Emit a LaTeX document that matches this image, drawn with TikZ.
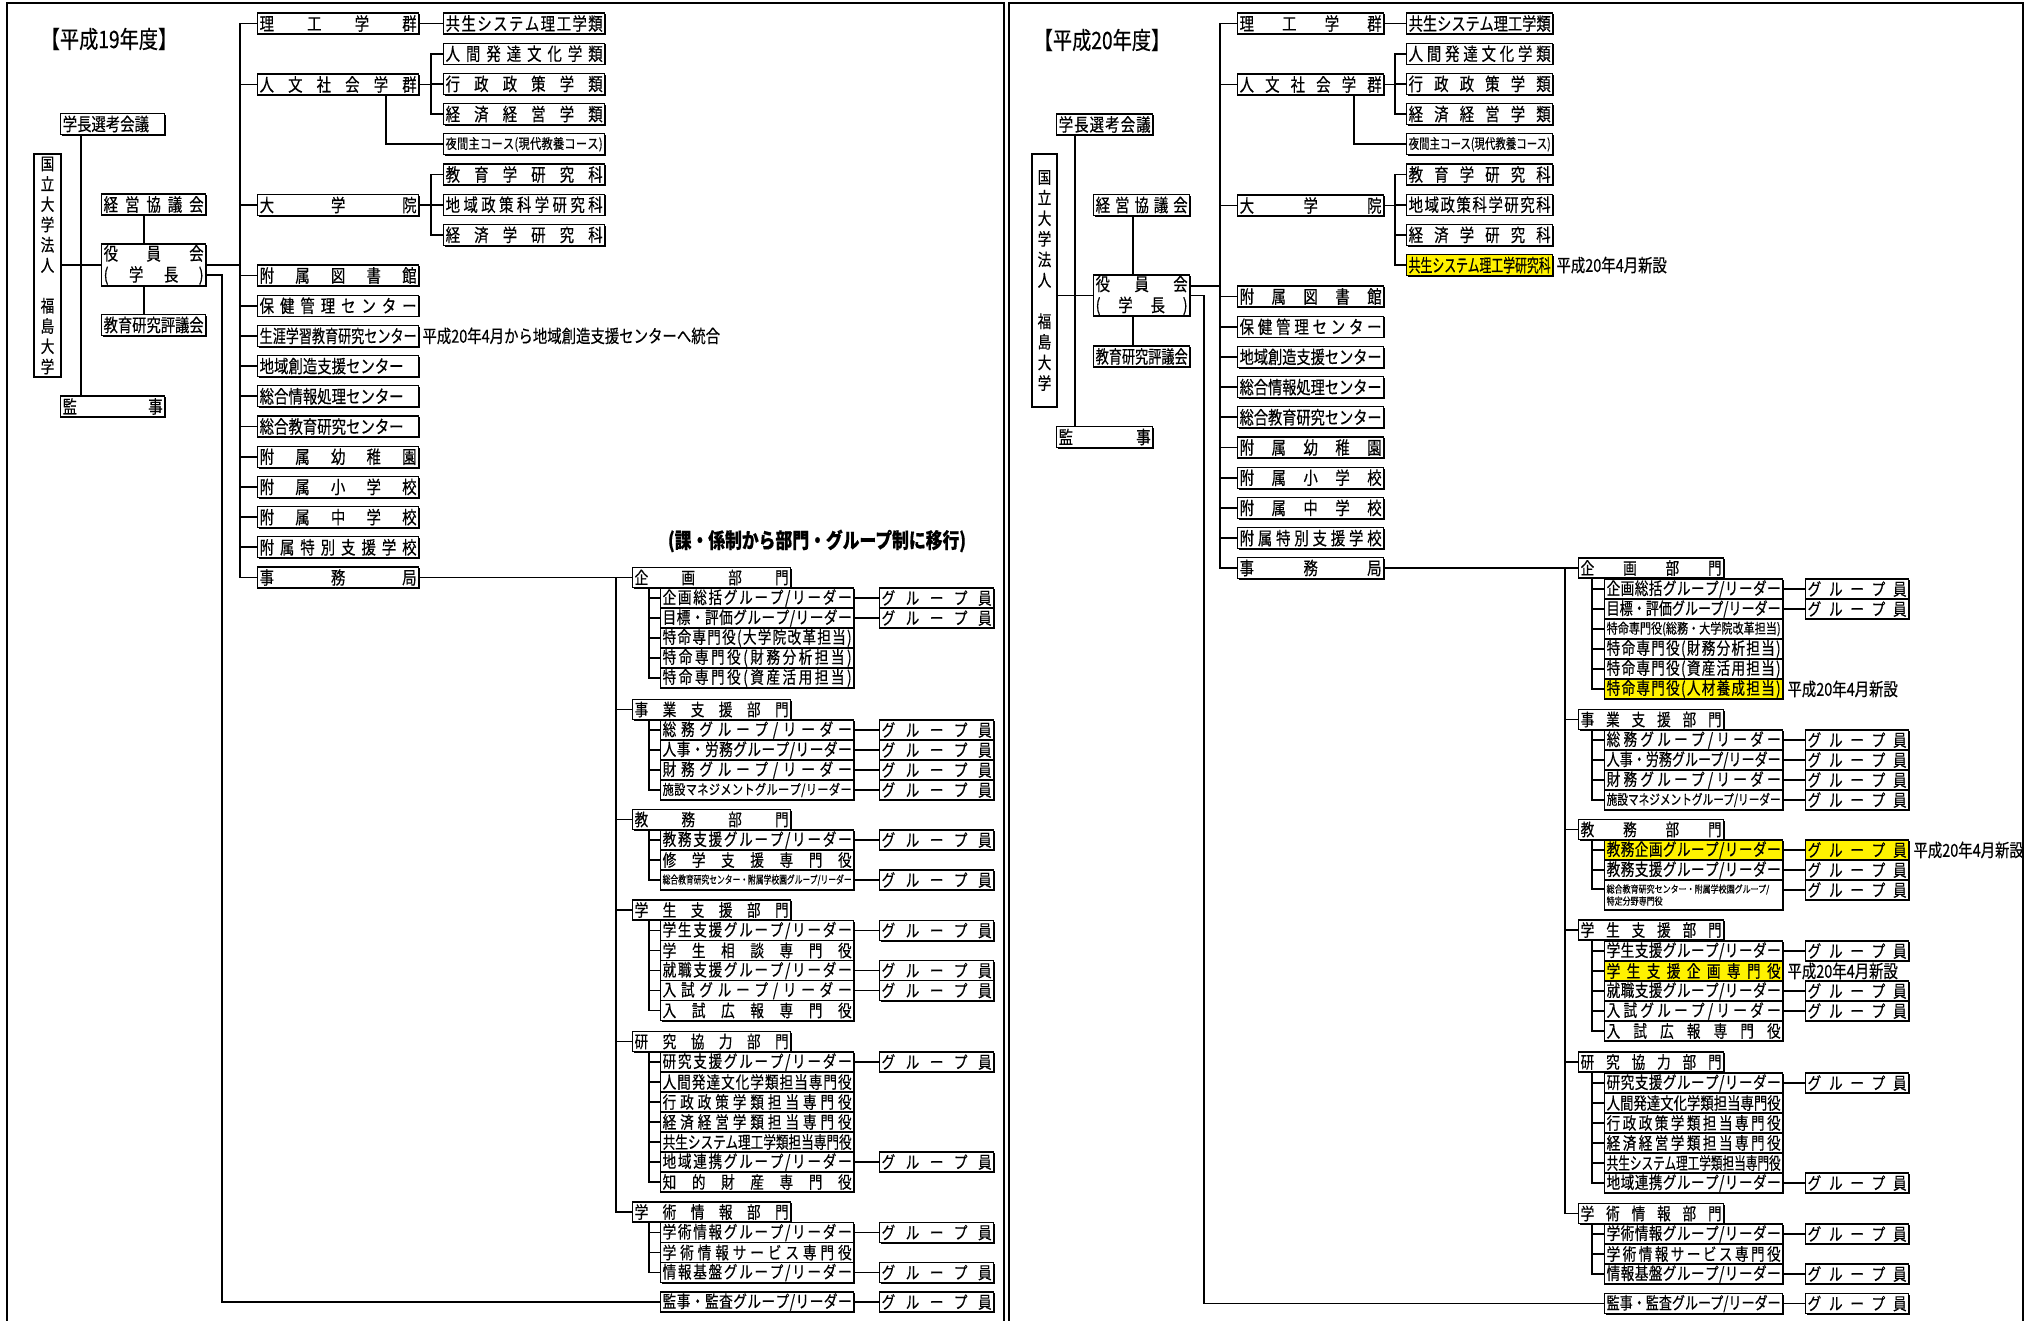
\documentclass[tikz,border=0pt]{standalone}
\usepackage{fontspec}
\usepackage{graphicx}
\usetikzlibrary{positioning, shadows}
\newfontfamily\jp[FakeStretch=0.8, FakeBold=0.4]{Noto Sans CJK JP}

% spread the characters over the box width, squeeze them if too wide
\newsavebox\sprbox
\def\sprloop#1{\ifx#1\relax\else#1\hfill\expandafter\sprloop\fi}
\newcommand\sprfill[1]{\hbox to\hsize{\sprloop#1\relax\hskip0pt plus -1fill\relax}}
\newcommand\sprA[1]{\sbox\sprbox{#1}%
  \ifdim\wd\sprbox>\hsize\resizebox{\hsize}{\height}{#1}\else\sprfill{#1}\fi}
\newcommand\spr[1]{\expandafter\sprA\expandafter{#1}}
\newcommand\gin{\spr{グループ員}}

\begin{document}
\begin{tikzpicture}[x=1pt, y=-1pt,
  ln/.style={line width=1.8pt},
  panel/.style={line width=2pt},
  bx/.style={draw, line width=1.3pt, fill=white, anchor=west, inner xsep=2pt, inner ysep=0pt,
    drop shadow={shadow xshift=1.3pt, shadow yshift=-1.3pt, opacity=1, fill=black}},
  topL/.style={bx, text width=100pt, minimum height=21pt, font=\jp\fontsize{18}{21}\selectfont},
  topR/.style={bx, text width=92pt, minimum height=21pt, font=\jp\fontsize{18}{21}\selectfont},
  lvL/.style={bx, text width=157pt, minimum height=21pt, font=\jp\fontsize{18}{18}\selectfont},
  lvR/.style={bx, text width=142pt, minimum height=21pt, font=\jp\fontsize{18}{18}\selectfont},
  divL/.style={bx, text width=154pt, minimum height=20pt, font=\jp\fontsize{17}{17}\selectfont},
  divR/.style={bx, text width=141pt, minimum height=20pt, font=\jp\fontsize{17}{17}\selectfont},
  itemL/.style={bx, text width=189pt, minimum height=20pt, font=\jp\fontsize{17}{17}\selectfont},
  itemR/.style={bx, text width=174pt, minimum height=20pt, font=\jp\fontsize{17}{17}\selectfont},
  memL/.style={bx, text width=110pt, minimum height=20pt, font=\jp\fontsize{17}{17}\selectfont},
  memR/.style={bx, text width=99pt, minimum height=20pt, font=\jp\fontsize{17}{17}\selectfont},
  smallfont/.style={font=\jp\fontsize{14}{14}\selectfont},
  tinyfont/.style={font=\jp\fontsize{11}{12}\selectfont},
  note/.style={anchor=west, inner sep=0pt, font=\jp\fontsize{18}{18}\selectfont},
  hl/.style={fill=yellow},
]
\path[use as bounding box] (0,0) rectangle (2031,1321);
\clip (0,0) rectangle (2031,1321);
\fill[white] (0,0) rectangle (2031,1321);
\draw[panel] (7,3) rectangle (1004,1340);
\draw[panel] (1009,3) rectangle (2023,1340);

%% ---------------- H19 ----------------
\node[font=\jp\fontsize{24}{24}\selectfont, inner sep=0pt] (titleL) at (109,39) {【平成19年度】};
\node[bx, anchor=center, text width=23pt, minimum height=223pt, align=center,
      font=\jp\fontsize{17}{20.3}\selectfont] (houjinL) at (47.5,265.5)
      {国\\立\\大\\学\\法\\人\\[20.3pt]福\\島\\大\\学};
\node[topL] (gakuchoL) at (60,124) {学長選考会議};
\node[topL] (keieiL) at (101,204.5) {\spr{経営協議会}};
\node[topL, minimum height=42pt] (yakuinL) at (101,265) {\spr{役員会}\\\spr{(学長)}};
\node[topL] (kyouikuL) at (101,325) {\spr{教育研究評議会}};
\node[topL] (kanjiL) at (60,406.5) {\spr{監事}};
\coordinate (gakuchoLs) at ([xshift=21pt]gakuchoL.south west);
\draw[ln] (gakuchoLs) -- (gakuchoLs |- kanjiL.north);
\draw[ln] (yakuinL.west -| houjinL.east) -- (yakuinL.west);
\draw[ln] ([xshift=-10pt]keieiL.south) -- ([xshift=-10pt]yakuinL.north);
\draw[ln] ([xshift=-10pt]yakuinL.south) -- ([xshift=-10pt]kyouikuL.north);

\coordinate (LT) at (240,0);
\coordinate (LK) at (222,0);
\coordinate (LF) at (431,0);
\coordinate (LB) at (616,0);

\node[lvL] (rikouL) at (257,23.5) {\spr{理工学群}};
\node[lvL] (jinbunL) at (257,84.5) {\spr{人文社会学群}};
\node[lvL] (inL) at (257,205) {\spr{大学院}};
\node[lvL] (toshoL) at (257,275.5) {\spr{附属図書館}};
\node[lvL] (hokenL) at (257,305.7) {\spr{保健管理センター}};
\node[lvL] (shougaiL) at (257,335.9) {\spr{生涯学習教育研究センター}};
\node[lvL] (souzouL) at (257,366.1) {地域創造支援センター};
\node[lvL] (jouhouL) at (257,396.3) {総合情報処理センター};
\node[lvL] (kyoukenL) at (257,426.5) {総合教育研究センター};
\node[lvL] (youchiL) at (257,456.7) {\spr{附属幼稚園}};
\node[lvL] (shouL) at (257,486.9) {\spr{附属小学校}};
\node[lvL] (chuuL) at (257,517.1) {\spr{附属中学校}};
\node[lvL] (tokuL) at (257,547.3) {\spr{附属特別支援学校}};
\node[lvL] (jimuL) at (257,577.5) {\spr{事務局}};
\node[note, right=3pt of shougaiL] (mergeL) {平成20年4月から地域創造支援センターへ統合};

\draw[ln] (yakuinL.east) -- (yakuinL.east -| LT);
\draw[ln] (rikouL.west) -| (LT |- jimuL.west) -- (jimuL.west);
\foreach \n in {jinbunL,inL,toshoL,hokenL,shougaiL,souzouL,jouhouL,kyoukenL,youchiL,shouL,chuuL,tokuL}
  \draw[ln] (LT |- \n.west) -- (\n.west);

\node[lvL] (kyouseiL) at (443,23.5) {\spr{共生システム理工学類}};
\node[lvL] (ningenL) at (443,53.7) {\spr{人間発達文化学類}};
\node[lvL] (gyouseiL) at (443,83.9) {\spr{行政政策学類}};
\node[lvL] (keizaiL) at (443,114.1) {\spr{経済経営学類}};
\node[lvL, smallfont] (yakanL) at (443,144.3) {\spr{夜間主コース(現代教養コース)}};
\node[lvL] (kyouikuKL) at (443,174.5) {\spr{教育学研究科}};
\node[lvL] (chiikiKL) at (443,204.7) {\spr{地域政策科学研究科}};
\node[lvL] (keizaiKL) at (443,234.9) {\spr{経済学研究科}};

\draw[ln] (rikouL.east) -- (kyouseiL.west);
\draw[ln] (jinbunL.east) -- (jinbunL.east -| LF);
\draw[ln] (ningenL.west) -| (LF |- keizaiL.west) -- (keizaiL.west);
\draw[ln] (LF |- gyouseiL.west) -- (gyouseiL.west);
\draw[ln] ([xshift=48pt]jinbunL.south) |- (yakanL.west);
\draw[ln] (inL.east) -- (inL.east -| LF);
\draw[ln] (kyouikuKL.west) -| (LF |- keizaiKL.west) -- (keizaiKL.west);
\draw[ln] (LF |- chiikiKL.west) -- (chiikiKL.west);

\node[font=\jp\bfseries\fontsize{21}{21}\selectfont, inner sep=0pt] (shiftL) at (817,541) {(課・係制から部門・グループ制に移行)};

\node[divL] (kikakuL) at (632,577.5) {\spr{企画部門}};
\node[divL] (jigyouL) at (632,709.5) {\spr{事業支援部門}};
\node[divL] (kyoumuL) at (632,819.5) {\spr{教務部門}};
\node[divL] (gakuseiL) at (632,910) {\spr{学生支援部門}};
\node[divL] (kenkyuL) at (632,1041.5) {\spr{研究協力部門}};
\node[divL] (gakujutsuL) at (632,1212) {\spr{学術情報部門}};
\draw[ln] (jimuL.east) -- (kikakuL.west);
\draw[ln] (LB |- kikakuL.west) |- (gakujutsuL.west);
\foreach \n in {jigyouL,kyoumuL,gakuseiL,kenkyuL}
  \draw[ln] (LB |- \n.west) -- (\n.west);

% 企画部門
\foreach \t [count=\i] in {企画総括グループ/リーダー,目標・評価グループ/リーダー,特命専門役(大学院改革担当),特命専門役(財務分析担当),特命専門役(資産活用担当)}
  \node[itemL] (kikakuL\i) at (660,578+20*\i) {\spr{\t}};
\coordinate (kikakuLs) at ([xshift=17pt]kikakuL.south west);
\draw[ln] (kikakuLs) |- (kikakuL5.west);
\foreach \i in {1,...,4} \draw[ln] (kikakuLs |- kikakuL\i.west) -- (kikakuL\i.west);
\foreach \i in {1,2} {
  \node[memL] (kikakuLm\i) at (879,578+20*\i) {\gin};
  \draw[ln] (kikakuL\i) -- (kikakuLm\i);
}

% 事業支援部門
\foreach \t [count=\i] in {総務グループ/リーダー,人事・労務グループ/リーダー,財務グループ/リーダー}
  \node[itemL] (jigyouL\i) at (660,710+20*\i) {\spr{\t}};
\node[itemL, smallfont] (jigyouL4) at (660,790) {\spr{施設マネジメントグループ/リーダー}};
\coordinate (jigyouLs) at ([xshift=17pt]jigyouL.south west);
\draw[ln] (jigyouLs) |- (jigyouL4.west);
\foreach \i in {1,...,3} \draw[ln] (jigyouLs |- jigyouL\i.west) -- (jigyouL\i.west);
\foreach \i in {1,...,4} {
  \node[memL] (jigyouLm\i) at (879,710+20*\i) {\gin};
  \draw[ln] (jigyouL\i) -- (jigyouLm\i);
}

% 教務部門
\node[itemL] (kyoumuL1) at (660,840) {\spr{教務支援グループ/リーダー}};
\node[itemL] (kyoumuL2) at (660,860) {\spr{修学支援専門役}};
\node[itemL, tinyfont] (kyoumuL3) at (660,880) {\spr{総合教育研究センター・附属学校園グループ/リーダー}};
\coordinate (kyoumuLs) at ([xshift=17pt]kyoumuL.south west);
\draw[ln] (kyoumuLs) |- (kyoumuL3.west);
\foreach \i in {1,2} \draw[ln] (kyoumuLs |- kyoumuL\i.west) -- (kyoumuL\i.west);
\foreach \i in {1,3} {
  \node[memL] (kyoumuLm\i) at (879,820+20*\i) {\gin};
  \draw[ln] (kyoumuL\i) -- (kyoumuLm\i);
}

% 学生支援部門
\foreach \t [count=\i] in {学生支援グループ/リーダー,学生相談専門役,就職支援グループ/リーダー,入試グループ/リーダー,入試広報専門役}
  \node[itemL] (gakuseiL\i) at (660,910.5+20*\i) {\spr{\t}};
\coordinate (gakuseiLs) at ([xshift=17pt]gakuseiL.south west);
\draw[ln] (gakuseiLs) |- (gakuseiL5.west);
\foreach \i in {1,...,4} \draw[ln] (gakuseiLs |- gakuseiL\i.west) -- (gakuseiL\i.west);
\foreach \i in {1,3,4} {
  \node[memL] (gakuseiLm\i) at (879,910.5+20*\i) {\gin};
  \draw[ln] (gakuseiL\i) -- (gakuseiLm\i);
}

% 研究協力部門
\foreach \t [count=\i] in {研究支援グループ/リーダー,人間発達文化学類担当専門役,行政政策学類担当専門役,経済経営学類担当専門役,共生システム理工学類担当専門役,地域連携グループ/リーダー,知的財産専門役}
  \node[itemL] (kenkyuL\i) at (660,1042+20*\i) {\spr{\t}};
\coordinate (kenkyuLs) at ([xshift=17pt]kenkyuL.south west);
\draw[ln] (kenkyuLs) |- (kenkyuL7.west);
\foreach \i in {1,...,6} \draw[ln] (kenkyuLs |- kenkyuL\i.west) -- (kenkyuL\i.west);
\foreach \i in {1,6} {
  \node[memL] (kenkyuLm\i) at (879,1042+20*\i) {\gin};
  \draw[ln] (kenkyuL\i) -- (kenkyuLm\i);
}

% 学術情報部門
\foreach \t [count=\i] in {学術情報グループ/リーダー,学術情報サービス専門役,情報基盤グループ/リーダー}
  \node[itemL] (gakujutsuL\i) at (660,1212.5+20*\i) {\spr{\t}};
\coordinate (gakujutsuLs) at ([xshift=17pt]gakujutsuL.south west);
\draw[ln] (gakujutsuLs) |- (gakujutsuL3.west);
\foreach \i in {1,2} \draw[ln] (gakujutsuLs |- gakujutsuL\i.west) -- (gakujutsuL\i.west);
\foreach \i in {1,3} {
  \node[memL] (gakujutsuLm\i) at (879,1212.5+20*\i) {\gin};
  \draw[ln] (gakujutsuL\i) -- (gakujutsuLm\i);
}

\node[itemL] (kansaL) at (660,1302) {\spr{監事・監査グループ/リーダー}};
\node[memL] (kansaLm) at (879,1302) {\gin};
\draw[ln] (kansaL) -- (kansaLm);
\draw[ln] ([yshift=-10pt]yakuinL.east) -| (LK |- kansaL.west) -- (kansaL.west);

%% ---------------- H20 ----------------
\node[font=\jp\fontsize{24}{24}\selectfont, inner sep=0pt] (titleR) at (1102,40) {【平成20年度】};
\node[bx, anchor=center, text width=21pt, minimum height=253pt, align=center,
      font=\jp\fontsize{17}{20.6}\selectfont] (houjinR) at (1044.5,280.5)
      {国\\立\\大\\学\\法\\人\\[20.6pt]福\\島\\大\\学};
\node[topR] (gakuchoR) at (1056,124.5) {\spr{学長選考会議}};
\node[topR] (keieiR) at (1093,205) {\spr{経営協議会}};
\node[topR, minimum height=41pt] (yakuinR) at (1093,295.5) {\spr{役員会}\\\spr{(学長)}};
\node[topR] (kyouikuR) at (1093,356.5) {\spr{教育研究評議会}};
\node[topR] (kanjiR) at (1056,437) {\spr{監事}};
\coordinate (gakuchoRs) at ([xshift=19pt]gakuchoR.south west);
\draw[ln] (gakuchoRs) -- (gakuchoRs |- kanjiR.north);
\draw[ln] (yakuinR.west -| houjinR.east) -- (yakuinR.west);
\draw[ln] ([xshift=-9pt]keieiR.south) -- ([xshift=-9pt]yakuinR.north);
\draw[ln] ([xshift=-9pt]yakuinR.south) -- ([xshift=-9pt]kyouikuR.north);

\coordinate (RT) at (1220,0);
\coordinate (RK) at (1204,0);
\coordinate (RF) at (1395,0);
\coordinate (RB) at (1565,0);

\node[lvR] (rikouR) at (1237,23.5) {\spr{理工学群}};
\node[lvR] (jinbunR) at (1237,84.5) {\spr{人文社会学群}};
\node[lvR] (inR) at (1237,205.5) {\spr{大学院}};
\node[lvR] (toshoR) at (1237,296.5) {\spr{附属図書館}};
\node[lvR] (hokenR) at (1237,326.7) {\spr{保健管理センター}};
\node[lvR] (souzouR) at (1237,356.9) {\spr{地域創造支援センター}};
\node[lvR] (jouhouR) at (1237,387.1) {\spr{総合情報処理センター}};
\node[lvR] (kyoukenR) at (1237,417.3) {\spr{総合教育研究センター}};
\node[lvR] (youchiR) at (1237,447.5) {\spr{附属幼稚園}};
\node[lvR] (shouR) at (1237,477.7) {\spr{附属小学校}};
\node[lvR] (chuuR) at (1237,507.9) {\spr{附属中学校}};
\node[lvR] (tokuR) at (1237,538.1) {\spr{附属特別支援学校}};
\node[lvR] (jimuR) at (1237,568) {\spr{事務局}};

\draw[ln] ([yshift=9.5pt]yakuinR.east) -- ([yshift=9.5pt]yakuinR.east -| RT);
\draw[ln] (rikouR.west) -| (RT |- jimuR.west) -- (jimuR.west);
\foreach \n in {jinbunR,inR,toshoR,hokenR,souzouR,jouhouR,kyoukenR,youchiR,shouR,chuuR,tokuR}
  \draw[ln] (RT |- \n.west) -- (\n.west);

\node[lvR] (kyouseiR) at (1406,23.5) {\spr{共生システム理工学類}};
\node[lvR] (ningenR) at (1406,53.7) {\spr{人間発達文化学類}};
\node[lvR] (gyouseiR) at (1406,83.9) {\spr{行政政策学類}};
\node[lvR] (keizaiR) at (1406,114.1) {\spr{経済経営学類}};
\node[lvR, smallfont] (yakanR) at (1406,144.3) {\spr{夜間主コース(現代教養コース)}};
\node[lvR] (kyouikuKR) at (1406,174.5) {\spr{教育学研究科}};
\node[lvR] (chiikiKR) at (1406,204.7) {\spr{地域政策科学研究科}};
\node[lvR] (keizaiKR) at (1406,234.9) {\spr{経済学研究科}};
\node[lvR, hl] (kyouseiKR) at (1406,265.1) {\spr{共生システム理工学研究科}};
\node[note, right=3pt of kyouseiKR] (newR1) {平成20年4月新設};

\draw[ln] (rikouR.east) -- (kyouseiR.west);
\draw[ln] (jinbunR.east) -- (jinbunR.east -| RF);
\draw[ln] (ningenR.west) -| (RF |- keizaiR.west) -- (keizaiR.west);
\draw[ln] (RF |- gyouseiR.west) -- (gyouseiR.west);
\draw[ln] ([xshift=43pt]jinbunR.south) |- (yakanR.west);
\draw[ln] (inR.east) -- (inR.east -| RF);
\draw[ln] (kyouikuKR.west) -| (RF |- kyouseiKR.west) -- (kyouseiKR.west);
\foreach \n in {chiikiKR,keizaiKR} \draw[ln] (RF |- \n.west) -- (\n.west);

\node[divR] (kikakuR) at (1578,568) {\spr{企画部門}};
\node[divR] (jigyouR) at (1578,719.5) {\spr{事業支援部門}};
\node[divR] (kyoumuR) at (1578,829.5) {\spr{教務部門}};
\node[divR] (gakuseiR) at (1578,930) {\spr{学生支援部門}};
\node[divR] (kenkyuR) at (1578,1062) {\spr{研究協力部門}};
\node[divR] (gakujutsuR) at (1578,1213.5) {\spr{学術情報部門}};
\draw[ln] (jimuR.east) -- (kikakuR.west);
\draw[ln] (RB |- kikakuR.west) |- (gakujutsuR.west);
\foreach \n in {jigyouR,kyoumuR,gakuseiR,kenkyuR}
  \draw[ln] (RB |- \n.west) -- (\n.west);

% 企画部門
\node[itemR] (kikakuR1) at (1604,589) {\spr{企画総括グループ/リーダー}};
\node[itemR] (kikakuR2) at (1604,609) {\spr{目標・評価グループ/リーダー}};
\node[itemR, smallfont] (kikakuR3) at (1604,629) {\spr{特命専門役(総務・大学院改革担当)}};
\node[itemR] (kikakuR4) at (1604,649) {\spr{特命専門役(財務分析担当)}};
\node[itemR] (kikakuR5) at (1604,669) {\spr{特命専門役(資産活用担当)}};
\node[itemR, hl] (kikakuR6) at (1604,689) {\spr{特命専門役(人材養成担当)}};
\node[note, right=4pt of kikakuR6] (newR2) {平成20年4月新設};
\coordinate (kikakuRs) at ([xshift=14pt]kikakuR.south west);
\draw[ln] (kikakuRs) |- (kikakuR6.west);
\foreach \i in {1,...,5} \draw[ln] (kikakuRs |- kikakuR\i.west) -- (kikakuR\i.west);
\foreach \i in {1,2} {
  \node[memR] (kikakuRm\i) at (1805,569+20*\i) {\gin};
  \draw[ln] (kikakuR\i) -- (kikakuRm\i);
}

% 事業支援部門
\foreach \t [count=\i] in {総務グループ/リーダー,人事・労務グループ/リーダー,財務グループ/リーダー}
  \node[itemR] (jigyouR\i) at (1604,720+20*\i) {\spr{\t}};
\node[itemR, smallfont] (jigyouR4) at (1604,800) {\spr{施設マネジメントグループ/リーダー}};
\coordinate (jigyouRs) at ([xshift=14pt]jigyouR.south west);
\draw[ln] (jigyouRs) |- (jigyouR4.west);
\foreach \i in {1,...,3} \draw[ln] (jigyouRs |- jigyouR\i.west) -- (jigyouR\i.west);
\foreach \i in {1,...,4} {
  \node[memR] (jigyouRm\i) at (1805,720+20*\i) {\gin};
  \draw[ln] (jigyouR\i) -- (jigyouRm\i);
}

% 教務部門
\node[itemR, hl] (kyoumuR1) at (1604,850) {\spr{教務企画グループ/リーダー}};
\node[itemR] (kyoumuR2) at (1604,870) {\spr{教務支援グループ/リーダー}};
\node[itemR, minimum height=30pt, align=left, font=\jp\fontsize{10}{12}\selectfont] (kyoumuR3)
  at (1604,895) {総合教育研究センター・附属学校園グループ/\\特定分野専門役};
\node[memR, hl] (kyoumuRm1) at (1805,850) {\gin};
\node[memR] (kyoumuRm2) at (1805,870) {\gin};
\node[memR] (kyoumuRm3) at (1805,890) {\gin};
\node[note, right=4pt of kyoumuRm1] (newR3) {平成20年4月新設};
\coordinate (kyoumuRs) at ([xshift=14pt]kyoumuR.south west);
\draw[ln] (kyoumuRs) |- ([yshift=-10pt]kyoumuR3.north west);
\foreach \i in {1,2} {
  \draw[ln] (kyoumuRs |- kyoumuR\i.west) -- (kyoumuR\i.west);
  \draw[ln] (kyoumuR\i) -- (kyoumuRm\i);
}
\draw[ln] (kyoumuRm3.west -| kyoumuR3.east) -- (kyoumuRm3.west);

% 学生支援部門
\node[itemR] (gakuseiR1) at (1604,951) {\spr{学生支援グループ/リーダー}};
\node[itemR, hl] (gakuseiR2) at (1604,971) {\spr{学生支援企画専門役}};
\node[itemR] (gakuseiR3) at (1604,991) {\spr{就職支援グループ/リーダー}};
\node[itemR] (gakuseiR4) at (1604,1011) {\spr{入試グループ/リーダー}};
\node[itemR] (gakuseiR5) at (1604,1031) {\spr{入試広報専門役}};
\node[note, right=4pt of gakuseiR2] (newR4) {平成20年4月新設};
\coordinate (gakuseiRs) at ([xshift=14pt]gakuseiR.south west);
\draw[ln] (gakuseiRs) |- (gakuseiR5.west);
\foreach \i in {1,...,4} \draw[ln] (gakuseiRs |- gakuseiR\i.west) -- (gakuseiR\i.west);
\foreach \i in {1,3,4} {
  \node[memR] (gakuseiRm\i) at (1805,931+20*\i) {\gin};
  \draw[ln] (gakuseiR\i) -- (gakuseiRm\i);
}

% 研究協力部門
\foreach \t [count=\i] in {研究支援グループ/リーダー,人間発達文化学類担当専門役,行政政策学類担当専門役,経済経営学類担当専門役,共生システム理工学類担当専門役,地域連携グループ/リーダー}
  \node[itemR] (kenkyuR\i) at (1604,1063+20*\i) {\spr{\t}};
\coordinate (kenkyuRs) at ([xshift=14pt]kenkyuR.south west);
\draw[ln] (kenkyuRs) |- (kenkyuR6.west);
\foreach \i in {1,...,5} \draw[ln] (kenkyuRs |- kenkyuR\i.west) -- (kenkyuR\i.west);
\foreach \i in {1,6} {
  \node[memR] (kenkyuRm\i) at (1805,1063+20*\i) {\gin};
  \draw[ln] (kenkyuR\i) -- (kenkyuRm\i);
}

% 学術情報部門
\foreach \t [count=\i] in {学術情報グループ/リーダー,学術情報サービス専門役,情報基盤グループ/リーダー}
  \node[itemR] (gakujutsuR\i) at (1604,1214+20*\i) {\spr{\t}};
\coordinate (gakujutsuRs) at ([xshift=14pt]gakujutsuR.south west);
\draw[ln] (gakujutsuRs) |- (gakujutsuR3.west);
\foreach \i in {1,2} \draw[ln] (gakujutsuRs |- gakujutsuR\i.west) -- (gakujutsuR\i.west);
\foreach \i in {1,3} {
  \node[memR] (gakujutsuRm\i) at (1805,1214+20*\i) {\gin};
  \draw[ln] (gakujutsuR\i) -- (gakujutsuRm\i);
}

\node[itemR] (kansaR) at (1604,1303.5) {\spr{監事・監査グループ/リーダー}};
\node[memR] (kansaRm) at (1805,1303.5) {\gin};
\draw[ln] (kansaR) -- (kansaRm);
\draw[ln] (yakuinR.east) -| (RK |- kansaR.west) -- (kansaR.west);
\end{tikzpicture}
\end{document}
